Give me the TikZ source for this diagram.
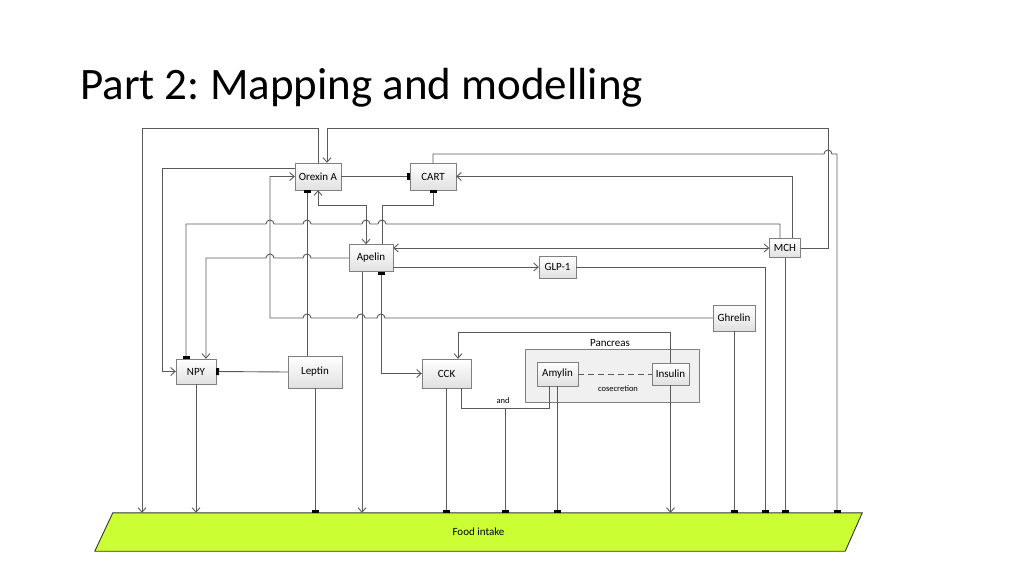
\documentclass[tikz,border=0pt]{standalone}
\usepackage{fontspec}
\setmainfont{Carlito}
\usetikzlibrary{arrows.meta,backgrounds}
\definecolor{linegray}{HTML}{595959}
\definecolor{boxline}{HTML}{7F7F7F}
\definecolor{foodgreen}{HTML}{CCFF33}
\frenchspacing
\tikzset{
  >={Straight Barb[length=4.5pt,width=8pt]},
  inh/.tip={Rectangle[length=3pt,width=7pt,color=black]},
  link/.style={draw=linegray,line width=0.9pt},
  hormone/.style={draw=boxline,top color=white,bottom color=black!12,inner sep=0pt,font=\fontsize{11}{13}\selectfont},
  tiny/.style={font=\fontsize{8.5}{10}\selectfont,inner sep=0pt},
}
\newcommand{\hopr}{arc[start angle=180,end angle=360,radius=4]}
\newcommand{\hopl}{arc[start angle=0,end angle=-180,radius=4]}
\begin{document}
\begin{tikzpicture}[x=1pt,y=-1pt]
\useasboundingbox (0,0) rectangle (1024,576);
\node[anchor=base west,font=\fontsize{45}{54}\selectfont,inner sep=0pt] (title) at (80,99) {Part 2: Mapping and modelling};

\node[draw=boxline,fill=black!6,minimum width=174,minimum height=53,inner sep=0pt] (pancreas) at (612,375.5) {};
\node[font=\fontsize{11}{13}\selectfont,inner sep=0pt] (pancreaslbl) at (610,343) {Pancreas};
\node[tiny] (cosec) at (618,389) {cosecretion};

\node[hormone,minimum width=46,minimum height=27] (orexin) at (318,176.5) {Orexin A};
\node[hormone,minimum width=46,minimum height=27] (cart) at (433,176.5) {CART};
\node[hormone,minimum width=44,minimum height=27] (apelin) at (371,258) {Apelin};
\node[hormone,minimum width=31,minimum height=19] (mch) at (785,248) {MCH};
\node[hormone,minimum width=37,minimum height=22] (glp) at (557.5,267) {GLP-1};
\node[hormone,minimum width=42,minimum height=26] (ghrelin) at (734,318) {Ghrelin};
\node[hormone,minimum width=40,minimum height=25] (npy) at (196,371.5) {NPY};
\node[hormone,minimum width=54,minimum height=32] (leptin) at (315,372) {Leptin};
\node[hormone,minimum width=49,minimum height=29] (cck) at (446.5,373.5) {CCK};
\node[hormone,minimum width=41,minimum height=24] (amylin) at (557.5,374) {Amylin};
\node[hormone,minimum width=37,minimum height=22] (insulin) at (670.5,374) {Insulin};

\node[font=\fontsize{11}{13}\selectfont,minimum width=767,minimum height=38,inner sep=0pt] (food) at (478.5,532) {Food intake};
\begin{scope}[on background layer]
\filldraw[fill=foodgreen,draw=black!80,line width=0.9pt] ([xshift=18]food.north west) -- (food.north east) -- ([xshift=-17]food.south east) -- (food.south west) -- cycle;
\end{scope}

\draw[link,->] (orexin.north) |- (142,128) -- (142,0 |- food.north);
\draw[link,->] (mch.east) -| (828,128) -| ([xshift=9]orexin.north);
\draw[link,->] ([yshift=8]orexin.west) -| (162,0 |- npy.west) -- (npy.west);
\draw[link,->] (ghrelin.west) -- (385,318) \hopl -- (365,318) \hopl -- (311,318) \hopl -- (270,318) |- (orexin.west);
\draw[link,-inh] (307,0 |- leptin.north) -- (307,0 |- orexin.south);
\draw[link,-inh] (orexin.east) -- (cart.west);
\draw[link,<->] (orexin.south) |- (366,205) -- ([xshift=-5]apelin.north);
\draw[link,-inh] ([xshift=11]apelin.north) |- (433,205) -- (cart.south);
\draw[link,->] ([xshift=7]mch.north) |- (cart.east);
\draw[link,-inh] (cart.north) |- (824,154) \hopr -- (837,154) -- (837,0 |- food.north);
\draw[link,-inh] ([xshift=-5]mch.north) |- (386,224) \hopl -- (370,224) \hopl -- (311,224) \hopl -- (274,224) \hopl -- (186,224) -- ([xshift=-10]npy.north);
\draw[link,->] (apelin.west) -- (311,258) \hopl -- (274,258) \hopl -- (206,258) -- ([xshift=10]npy.north);
\draw[link,<->] (apelin.east |- mch.west) -- (mch.west);
\draw[link,->] (apelin.east |- glp.west) -- (glp.west);
\draw[link,-inh] (glp.east) -| (765,0 |- food.north);
\draw[link,-inh] (mch.south) -- (mch.south |- food.north);
\draw[link,-inh] (ghrelin.south) -- (ghrelin.south |- food.north);
\draw[link,->] ([xshift=-9]apelin.south) -- (362,0 |- food.north);
\draw[link,inh->] ([xshift=10]apelin.south) |- (cck.west);
\draw[link,->] (npy.south) -- (npy.south |- food.north);
\draw[link,-inh] (leptin.west) -- (npy.east);
\draw[link,-inh] (leptin.south) -- (leptin.south |- food.north);
\draw[link,-inh] (cck.south) -- (cck.south |- food.north);
\draw[link] ([xshift=14.5]cck.south) |- (549,408) -- ([xshift=-8.5]amylin.south);
\coordinate (andpt) at (505,408);
\node[tiny] (andlbl) at (503,401) {and};
\draw[link,-inh] (andpt) -- (andpt |- food.north);
\draw[link,-inh] (amylin.south) -- (amylin.south |- food.north);
\draw[link,dash pattern=on 6pt off 4pt] (amylin.east) -- (insulin.west);
\draw[link,->] (insulin.north) |- (458,332) -- ([xshift=11.5]cck.north);
\draw[link,->] (insulin.south) -- (insulin.south |- food.north);
\end{tikzpicture}
\end{document}
